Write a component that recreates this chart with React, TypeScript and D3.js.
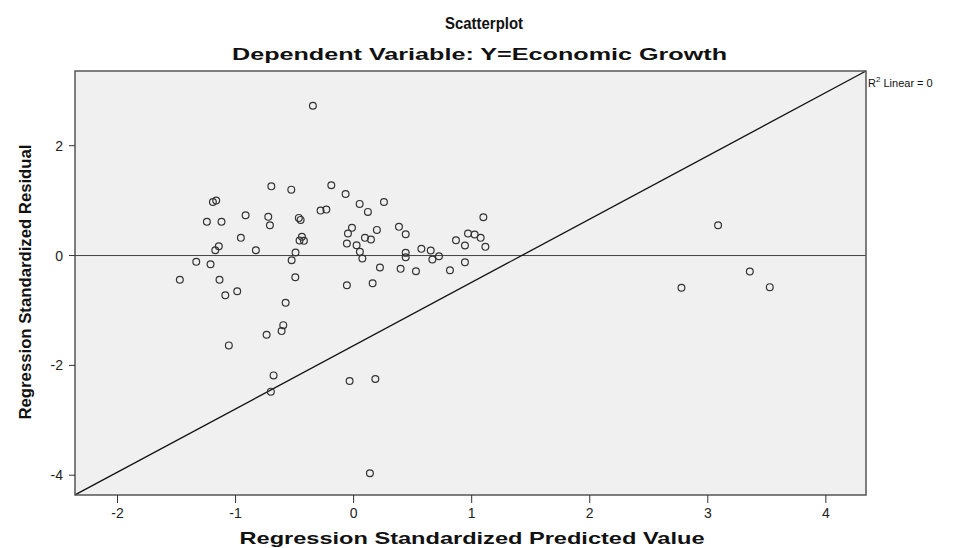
import React from "react";
import * as d3 from "d3";

// standardized predicted value (x) and standardized residual (y)
const predicted = [
  -0.697, -0.528, -0.189, -0.068, 0.051, -1.192, -1.164, -1.243, -1.119, -0.915,
  -0.723, -0.709, -0.464, -0.449, -0.28, -0.231, -0.955, -0.438, -0.458, -0.421,
  -0.014, -0.048, -0.057, 0.025, -1.142, -1.172, -0.828, -0.492, -0.525, -1.333,
  -1.212, -1.472, -1.136, -0.494, -0.057, -1.087, -0.986, -0.576, 0.121, 0.257,
  0.096, 0.197, 0.147, 0.384, 0.441, 0.053, 0.074, 0.441, 0.441, 0.574,
  0.653, 0.723, 0.667, 0.223, 0.398, 0.528, 0.816, 0.943, 0.867, 0.943,
  0.969, 1.025, 1.076, 1.099, 1.116, 0.161, -1.057, -0.737, -0.596, -0.61,
  -0.678, -0.701, -0.034, 0.184, 0.138, -0.345, 3.087, 2.777, 3.356, 3.525,
];
const residual = [
  1.26, 1.2, 1.28, 1.12, 0.94, 0.976, 1.0, 0.613, 0.613, 0.733,
  0.704, 0.551, 0.685, 0.649, 0.818, 0.836, 0.322, 0.34, 0.273, 0.267,
  0.504, 0.4, 0.218, 0.187, 0.169, 0.096, 0.096, 0.055, -0.085, -0.115,
  -0.158, -0.442, -0.442, -0.395, -0.54, -0.722, -0.649, -0.86, 0.795, 0.976,
  0.322, 0.467, 0.291, 0.522, 0.387, 0.067, -0.055, 0.049, -0.031, 0.122,
  0.091, -0.013, -0.073, -0.218, -0.242, -0.285, -0.267, -0.122, 0.278, 0.182,
  0.4, 0.382, 0.322, 0.696, 0.158, -0.504, -1.636, -1.442, -1.267, -1.376,
  -2.182, -2.478, -2.285, -2.249, -3.964, 2.727, 0.551, -0.587, -0.291, -0.576,
];

const xTicks = [-2, -1, 0, 1, 2, 3, 4];
const yTicks = [-4, -2, 0, 2];

// fit line drawn on the chart
const fitIntercept = -1.64;
const fitSlope = 1.152;

const W = 968;
const H = 548;
const font = "'Liberation Sans', Arial, sans-serif";

export default function App() {
  const x = d3.scaleLinear().domain([-2.36, 4.34]).range([75, 866]);
  const y = d3.scaleLinear().domain([-4.36, 3.36]).range([495, 71]);
  const [x0, x1] = x.domain();
  const [y0, y1] = y.range();

  const fitLine = d3
    .line<number>()
    .x((d) => x(d))
    .y((d) => y(fitIntercept + fitSlope * d));

  return (
    <div style={{ position: "fixed", left: 0, top: 0 }}>
      <svg width={W} height={H} style={{ display: "block", background: "#fff" }} fontFamily={font}>
        <text
          x={484}
          y={29}
          textAnchor="middle"
          fontSize={17}
          fontWeight="bold"
          fill="#111"
          textLength={78}
          lengthAdjust="spacingAndGlyphs"
        >
          Scatterplot
        </text>
        <text
          x={479.5}
          y={60}
          textAnchor="middle"
          fontSize={17}
          fontWeight="bold"
          fill="#111"
          textLength={495}
          lengthAdjust="spacingAndGlyphs"
        >
          Dependent Variable: Y=Economic Growth
        </text>

        <rect x={x(x0)} y={y1} width={x(x1) - x(x0)} height={y0 - y1} fill="#f0f0f0" />

        {/* zero line */}
        <line x1={x(x0)} x2={x(x1)} y1={y(0)} y2={y(0)} stroke="#444" strokeWidth={1} />

        {/* fit line */}
        <path d={fitLine([x0, x1]) || ""} fill="none" stroke="#111" strokeWidth={1.3} />

        {predicted.map((p, i) => (
          <circle
            key={i}
            cx={x(p)}
            cy={y(residual[i])}
            r={3.4}
            fill="none"
            stroke="#333"
            strokeWidth={1.2}
          />
        ))}

        <rect
          x={x(x0)}
          y={y1}
          width={x(x1) - x(x0)}
          height={y0 - y1}
          fill="none"
          stroke="#555"
          strokeWidth={1.5}
        />

        {/* y axis */}
        {yTicks.map((t) => (
          <g key={t}>
            <line x1={x(x0) - 6} x2={x(x0)} y1={y(t)} y2={y(t)} stroke="#333" strokeWidth={1} />
            <text x={x(x0) - 12} y={y(t) + 5} textAnchor="end" fontSize={14} fill="#222">
              {t}
            </text>
          </g>
        ))}

        {/* x axis */}
        {xTicks.map((t) => (
          <g key={t}>
            <line x1={x(t)} x2={x(t)} y1={y0} y2={y0 + 8} stroke="#333" strokeWidth={1} />
            <text x={x(t)} y={y0 + 23} textAnchor="middle" fontSize={14} fill="#222">
              {t}
            </text>
          </g>
        ))}

        <text
          x={472}
          y={544}
          textAnchor="middle"
          fontSize={17}
          fontWeight="bold"
          fill="#111"
          textLength={465}
          lengthAdjust="spacingAndGlyphs"
        >
          Regression Standardized Predicted Value
        </text>
        <text
          transform={`translate(31,282) rotate(-90)`}
          textAnchor="middle"
          fontSize={16}
          fontWeight="bold"
          fill="#111"
          textLength={275}
          lengthAdjust="spacingAndGlyphs"
        >
          Regression Standardized Residual
        </text>

        <text x={868} y={87} fontSize={11} fill="#111">
          R<tspan dy={-5} fontSize={8}>2</tspan>
          <tspan dy={5}> Linear = 0</tspan>
        </text>
      </svg>
    </div>
  );
}
